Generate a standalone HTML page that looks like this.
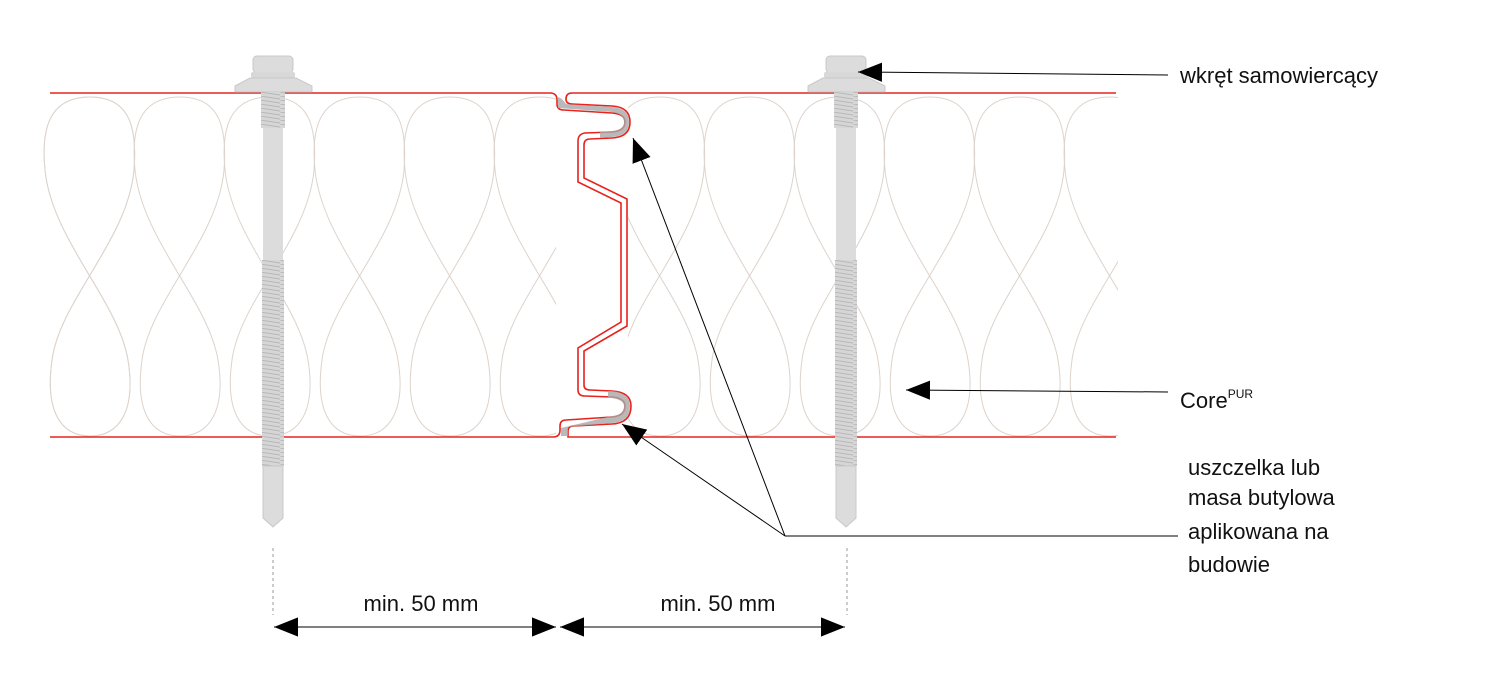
<!DOCTYPE html>
<html><head><meta charset="utf-8"><style>
html,body{margin:0;padding:0;background:#fff;}
svg{display:block}
text{font-family:"Liberation Sans",sans-serif;fill:#111;}
</style></head><body>
<svg width="1500" height="687" viewBox="0 0 1500 687" xmlns="http://www.w3.org/2000/svg">
<defs>
<marker id="ah" viewBox="0 0 10 10" refX="10" refY="5" markerWidth="24" markerHeight="24" markerUnits="userSpaceOnUse" orient="auto"><path d="M0,1 L10,5 L0,9 z" fill="#000"/></marker>
<pattern id="thr" width="20" height="4" patternUnits="userSpaceOnUse"><rect width="20" height="4" fill="#d6d6d6"/><line x1="0" y1="0" x2="20" y2="3" stroke="#b8b8b8" stroke-width="1"/></pattern>
</defs>
<!-- insulation -->
<g fill="none" stroke="#ddd3cb" stroke-width="1">
<path id="cell" d="M45,170 C40,120 55,97 90,97 C125,97 138,120 134,170 C128,240 60,300 52,360 C45,410 60,436 90,436 C120,436 136,410 128,360 C118,300 52,240 45,170 Z"/>
<g id="row">
<use href="#cell" x="0"/><use href="#cell" x="90"/><use href="#cell" x="180"/><use href="#cell" x="270"/><use href="#cell" x="360"/><use href="#cell" x="450"/>
</g>
<g transform="translate(570,0)"><use href="#row" x="0"/></g>
</g>
<rect x="0" y="0" width="1500" height="92" fill="#fff"/>
<rect x="0" y="438" width="1500" height="249" fill="#fff"/>
<rect x="0" y="80" width="42" height="370" fill="#fff"/>
<rect x="1118" y="80" width="400" height="370" fill="#fff"/>
<rect x="556" y="94" width="72" height="342" fill="#fff"/>
<!-- panel skins -->
<g fill="none" stroke="#e8231e" stroke-width="1.6">
<path d="M50,93 L550,93 Q557,93 557,100 L557,104 Q557,110 564,110 L612,113 Q625,114 625,122 Q625,131 612,132 L585,133 Q578,134 578,141 L578,182 L621,203 L621,322 L578,348 L578,390 Q578,396 585,396 L612,397 Q625,398 625,406 Q625,416 612,417 L566,420 Q560,420 560,426 L560,430 Q560,437 553,437 L50,437"/>
<path d="M1116,93 L572,93 Q566,93 566,99 Q566,104 572,104 L612,106 Q630,107 630,122 Q630,137 612,138 L590,139 Q584,139 584,145 L584,178 L627,199 L627,326 L584,351 L584,385 Q584,390 590,390 L612,391 Q631,392 631,406 Q631,423 612,424 L574,426 Q568,426 568,431 L568,437 L1116,437"/>
</g>
<path d="M558,97 L558,108 L612,112 Q624,114 624,122 Q624,130 612,131 L600,132 L600,138 L612,137 Q629,136 629,122 Q629,108 612,107 L566,104 Q562,98 558,97 Z" fill="#a8a8a8" opacity="0.8"/>
<path d="M561,428 L561,436 L568,436 L568,427 L612,423 Q630,422 630,406 Q630,393 612,391 L608,391 L608,397 L612,398 Q624,400 624,406 Q624,415 612,416 Z" fill="#a8a8a8" opacity="0.8"/>
<!-- screws -->
<g id="screw">
<rect x="253" y="56" width="40" height="17" rx="4" fill="#dcdcdc" stroke="#c8c8c8"/>
<rect x="251" y="72" width="44" height="6" rx="2" fill="#d8d8d8"/>
<path d="M235,86 L250,78 L296,78 L312,86 L312,92 L235,92 Z" fill="#dcdcdc" stroke="#c8c8c8"/>
<rect x="263" y="92" width="20" height="168" fill="#dcdcdc"/>
<rect x="261" y="92" width="24" height="36" fill="url(#thr)"/>
<rect x="262" y="260" width="22" height="206" fill="url(#thr)"/>
<path d="M263,466 L283,466 L283,518 L273,527 L263,518 Z" fill="#dcdcdc" stroke="#c8c8c8"/>
</g>
<use href="#screw" x="573"/>
<!-- leaders -->
<g stroke="#000" stroke-width="1" fill="none">
<line x1="1168" y1="75" x2="858" y2="72" marker-end="url(#ah)"/>
<line x1="1168" y1="392" x2="906" y2="390" marker-end="url(#ah)"/>
<polyline points="1178,536 785,536"/>
<line x1="785" y1="536" x2="633" y2="138" marker-end="url(#ah)"/>
<line x1="785" y1="536" x2="622" y2="424" marker-end="url(#ah)"/>
<line x1="274" y1="627" x2="556" y2="627" marker-end="url(#ah)"/>
<line x1="556" y1="627" x2="274" y2="627" marker-end="url(#ah)"/>
<line x1="560" y1="627" x2="845" y2="627" marker-end="url(#ah)"/>
<line x1="845" y1="627" x2="560" y2="627" marker-end="url(#ah)"/>
</g>
<g stroke="#999" stroke-width="1" stroke-dasharray="3,3">
<line x1="273" y1="548" x2="273" y2="615"/>
<line x1="847" y1="548" x2="847" y2="615"/>
</g>
<text x="1180" y="83" font-size="22">wkręt samowiercący</text>
<text x="1180" y="408" font-size="22">Core<tspan font-size="12" dy="-10">PUR</tspan></text>
<text x="1188" y="475" font-size="22">uszczelka lub</text>
<text x="1188" y="505" font-size="22">masa butylowa</text>
<text x="1188" y="539" font-size="22">aplikowana na</text>
<text x="1188" y="572" font-size="22">budowie</text>
<text x="421" y="611" font-size="22" text-anchor="middle">min. 50 mm</text>
<text x="718" y="611" font-size="22" text-anchor="middle">min. 50 mm</text>
</svg>
</body></html>
